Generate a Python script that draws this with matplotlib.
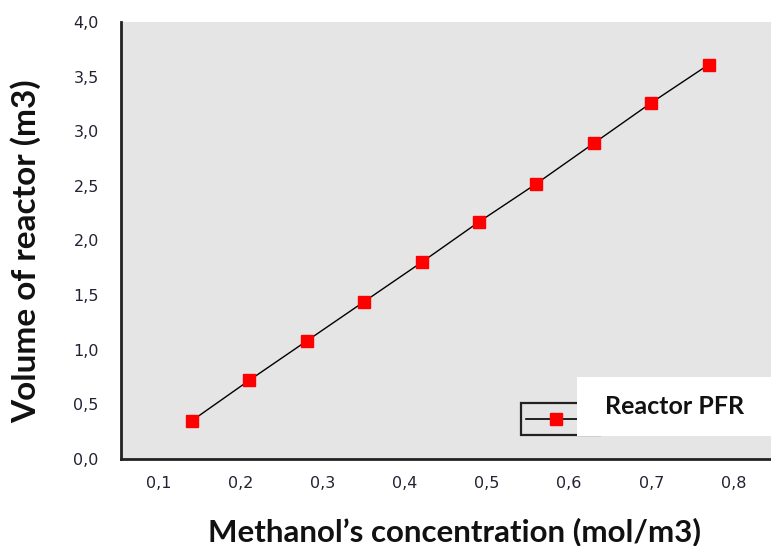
import matplotlib.pyplot as plt
from matplotlib.lines import Line2D
from matplotlib.patches import Rectangle
from matplotlib.ticker import FuncFormatter

BG_COLOR = "#ffffff"
PLOT_BG = "#e5e5e5"
TICK_COLOR = "#222233"
MARKER_COLOR = "#ff0000"

concentration = [0.14, 0.21, 0.28, 0.35, 0.42, 0.49, 0.56, 0.63, 0.70, 0.77]
volume = [0.35, 0.72, 1.08, 1.44, 1.80, 2.17, 2.52, 2.89, 3.26, 3.61]
x_ticks = [0.1, 0.2, 0.3, 0.4, 0.5, 0.6, 0.7, 0.8]
y_ticks = [0.0, 0.5, 1.0, 1.5, 2.0, 2.5, 3.0, 3.5, 4.0]
series_label = "Reactor PFR"
x_label = "Methanol\u2019s concentration (mol/m3)"
y_label = "Volume of reactor (m3)"

W, H = 771, 546


def fig_xy(x, y):
    # pixel position (from top-left) -> figure fraction
    return x / W, 1 - y / H


def comma_fmt(v, _pos):
    return f"{v:.1f}".replace(".", ",")


def main():
    fig = plt.figure(figsize=(W / 100, H / 100), dpi=100)
    fig.patch.set_facecolor(BG_COLOR)

    ax = fig.add_axes([121 / W, (H - 459) / H, (W - 121) / W, (459 - 22) / H])
    ax.set_facecolor(PLOT_BG)

    ax.plot(
        concentration,
        volume,
        color="black",
        linewidth=1.0,
        marker="s",
        markersize=9,
        markerfacecolor=MARKER_COLOR,
        markeredgecolor=MARKER_COLOR,
        zorder=3,
    )

    ax.set_xlim(0.0537, 0.846)
    ax.set_ylim(0.0, 4.0)
    ax.set_xticks(x_ticks)
    ax.set_yticks(y_ticks)
    ax.xaxis.set_major_formatter(FuncFormatter(comma_fmt))
    ax.yaxis.set_major_formatter(FuncFormatter(comma_fmt))
    ax.tick_params(axis="x", length=0, pad=12, labelsize=11.5, labelcolor=TICK_COLOR)
    ax.tick_params(axis="y", length=0, pad=16, labelsize=11.5, labelcolor=TICK_COLOR)

    for side in ("top", "right"):
        ax.spines[side].set_visible(False)
    for side in ("left", "bottom"):
        ax.spines[side].set_color("#222222")
        ax.spines[side].set_linewidth(2.0)

    fig.text(*fig_xy(454, 541), x_label, fontsize=22.5, fontweight="bold",
             family="Lato", ha="center", va="baseline", color="#111111")
    fig.text(*fig_xy(26, 251), y_label, fontsize=24, fontweight="bold",
             family="Lato", ha="center", va="center", rotation=90, color="#111111")

    # legend, drawn by hand: framed handle box half covered by a white label box
    x0, y0 = fig_xy(521, 435)
    x1, y1 = fig_xy(600, 403)
    fig.add_artist(Rectangle((x0, y0), x1 - x0, y1 - y0, transform=fig.transFigure,
                             facecolor="none", edgecolor="#222222", linewidth=1.6, zorder=4))
    lx0, ly = fig_xy(526, 419)
    lx1, _ = fig_xy(590, 419)
    mx, _ = fig_xy(556, 419)
    fig.add_artist(Line2D([lx0, lx1], [ly, ly], transform=fig.transFigure,
                          color="black", linewidth=1.2, zorder=4))
    fig.add_artist(Line2D([mx], [ly], transform=fig.transFigure, marker="s", markersize=9,
                          markerfacecolor=MARKER_COLOR, markeredgecolor=MARKER_COLOR, zorder=5))
    bx0, by0 = fig_xy(577, 436)
    bx1, by1 = fig_xy(771, 377)
    fig.add_artist(Rectangle((bx0, by0), bx1 - bx0, by1 - by0, transform=fig.transFigure,
                             facecolor="white", edgecolor="none", zorder=6))
    fig.text(*fig_xy(675, 407), series_label, fontsize=18, fontweight="bold",
             family="Lato", ha="center", va="center", color="#111111", zorder=7)

    fig.savefig("out.png", dpi=100, facecolor=fig.get_facecolor())


if __name__ == "__main__":
    main()
